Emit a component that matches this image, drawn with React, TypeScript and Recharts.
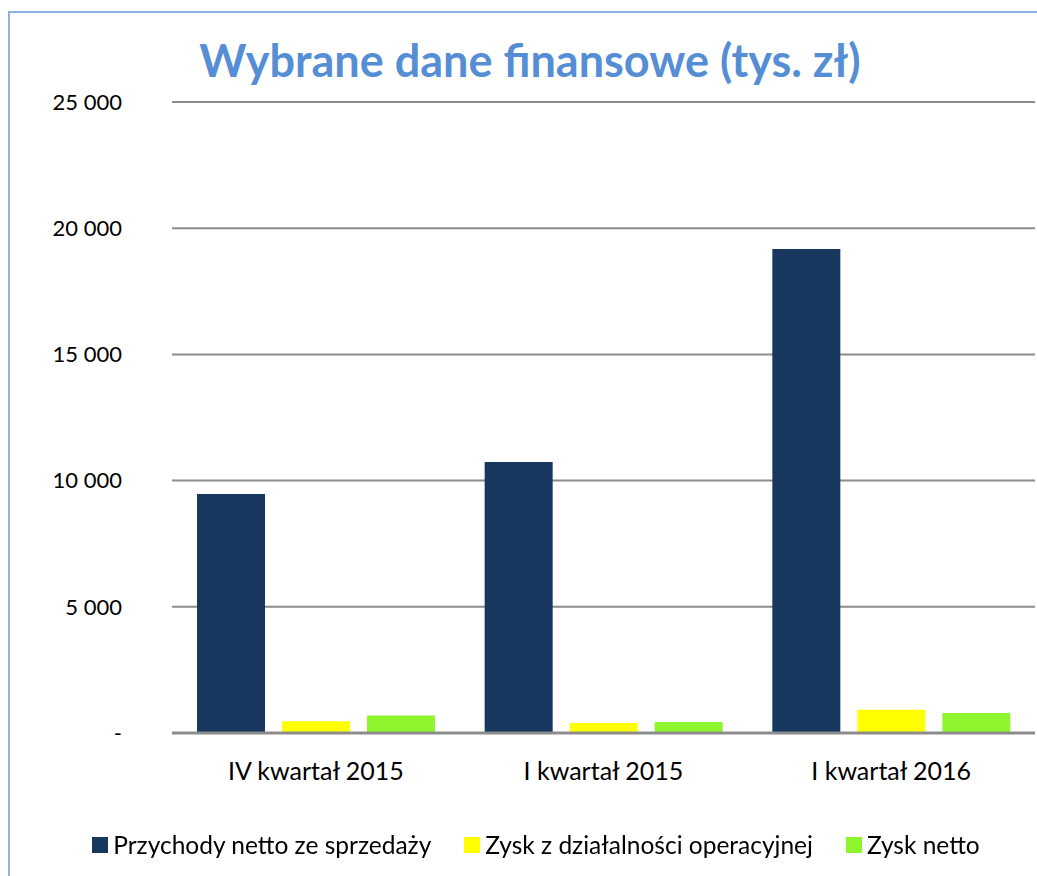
import { Bar, BarChart, CartesianGrid, XAxis, YAxis } from "recharts";

const categories = ["IV kwartał 2015", "I kwartał 2015", "I kwartał 2016"];
const przychody = [9470, 10740, 19180];
const zyskOperacyjny = [470, 400, 920];
const zyskNetto = [690, 440, 790];
const yTicks = [0, 5000, 10000, 15000, 20000, 25000];

const SERIES = [
  { key: "przychody", name: "Przychody netto ze sprzedaży", color: "#17375e" },
  { key: "operacyjny", name: "Zysk z działalności operacyjnej", color: "#ffff00" },
  { key: "netto", name: "Zysk netto", color: "#8ff52f" },
];

const data = categories.map((c, i) => ({
  category: c,
  przychody: przychody[i],
  operacyjny: zyskOperacyjny[i],
  netto: zyskNetto[i],
}));

const FONT = "Lato, sans-serif";

// 25 000 style, zero shown as a dash
const fmt = (v: number) => (v === 0 ? "-" : v.toLocaleString("en-US").replace(/,/g, " "));

export default function App() {
  return (
    <div style={{ position: "fixed", left: 0, top: 0, width: 1037, height: 876, background: "#fff" }}>
      <div
        style={{
          position: "absolute",
          left: 8,
          top: 11,
          width: 1100,
          height: 900,
          borderTop: "2px solid #8db3e2",
          borderLeft: "2px solid #8db3e2",
        }}
      />
      <div
        style={{
          position: "absolute",
          left: 0,
          top: 33,
          width: 1060,
          textAlign: "center",
          fontFamily: FONT,
          fontWeight: 700,
          fontSize: 45,
          color: "#558ed5",
        }}
      >
        Wybrane dane finansowe (tys. zł)
      </div>
      <div style={{ position: "absolute", left: 0, top: 0 }}>
        <BarChart
          width={1037}
          height={876}
          data={data}
          margin={{ top: 102, right: 2, left: 0, bottom: 0 }}
          barCategoryGap={25}
          barGap={17}
        >
          <CartesianGrid vertical={false} stroke="#8c8c8c" strokeWidth={2} />
          <XAxis
            dataKey="category"
            height={143}
            tickLine={false}
            axisLine={{ stroke: "#8c8c8c", strokeWidth: 3 }}
            tickMargin={23}
            tick={{ fontFamily: FONT, fontSize: 25, fill: "#000" }}
          />
          <YAxis
            width={172}
            domain={[0, 25000]}
            ticks={yTicks}
            interval={0}
            tickFormatter={fmt}
            axisLine={false}
            tickLine={false}
            tickSize={0}
            tickMargin={50}
            tick={{ fontFamily: FONT, fontSize: 22, fill: "#000" }}
          />
          {SERIES.map((s) => (
            <Bar key={s.key} dataKey={s.key} name={s.name} fill={s.color} isAnimationActive={false} />
          ))}
        </BarChart>
      </div>
      <div
        style={{
          position: "absolute",
          left: 0,
          top: 830,
          width: 1072,
          display: "flex",
          justifyContent: "center",
          gap: 33,
          fontFamily: FONT,
          fontSize: 24.5,
          color: "#000",
        }}
      >
        {SERIES.map((s) => (
          <span key={s.key} style={{ display: "flex", alignItems: "center", gap: 5 }}>
            <span style={{ width: 16, height: 16, background: s.color, display: "inline-block" }} />
            {s.name}
          </span>
        ))}
      </div>
    </div>
  );
}
